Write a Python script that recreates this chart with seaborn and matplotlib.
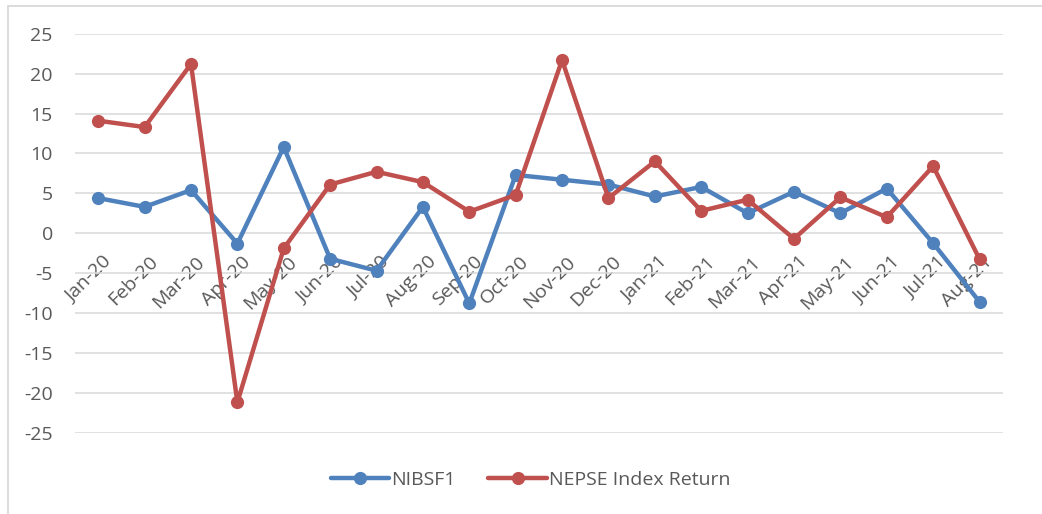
import matplotlib
matplotlib.use("Agg")
import matplotlib.pyplot as plt
import matplotlib.transforms as mtrans
from matplotlib.patches import Rectangle
import seaborn as sns
import pandas as pd

months = ["Jan-20", "Feb-20", "Mar-20", "Apr-20", "May-20", "Jun-20", "Jul-20",
          "Aug-20", "Sep-20", "Oct-20", "Nov-20", "Dec-20", "Jan-21", "Feb-21",
          "Mar-21", "Apr-21", "May-21", "Jun-21", "Jul-21", "Aug-21"]
nibsf1 = [4.4, 3.3, 5.4, -1.3, 10.8, -3.2, -4.7, 3.3, -8.8, 7.3,
          6.7, 6.1, 4.6, 5.8, 2.5, 5.2, 2.5, 5.6, -1.25, -8.6]
nepse = [14.1, 13.3, 21.2, -21.2, -1.9, 6.1, 7.7, 6.4, 2.7, 4.8,
         21.7, 4.4, 9.0, 2.8, 4.2, -0.7, 4.5, 2.0, 8.4, -3.25]
series_names = ["NIBSF1", "NEPSE Index Return"]
yticks = [25, 20, 15, 10, 5, 0, -5, -10, -15, -20, -25]

df = pd.DataFrame({
    "Month": months * 2,
    "Value": nibsf1 + nepse,
    "Series": [series_names[0]] * len(months) + [series_names[1]] * len(months),
})
df["x"] = list(range(len(months))) * 2

sns.set_theme(style="white")
plt.rcParams["font.family"] = ["Open Sans", "DejaVu Sans"]

FS = 14
TXT = "#595959"

fig = plt.figure(figsize=(10.42, 5.14), dpi=100)
ax = fig.add_axes([0.072, 0.1582, 0.8903, 0.7762])

palette = {"NIBSF1": "#4F81BD", "NEPSE Index Return": "#C0504D"}
sns.lineplot(data=df, x="x", y="Value", hue="Series", palette=palette,
             marker="o", markersize=9.5, markeredgewidth=0, linewidth=3.2,
             sort=False, ax=ax, legend=True)

for s in ["top", "right", "left"]:
    ax.spines[s].set_visible(False)
ax.spines["bottom"].set_position(("data", 0))
ax.spines["bottom"].set_color("none")

ax.set_xlim(-0.5, len(months) - 0.5)
ax.set_ylim(-25, 25)
ax.set_yticks(yticks)
ax.set_yticklabels([str(t) for t in yticks], fontsize=FS, color=TXT)
ax.set_xticks(range(len(months)))
ax.set_xticklabels(months, rotation=45, ha="right", rotation_mode="anchor",
                   fontsize=FS, color=TXT)
ax.tick_params(axis="both", length=0)
ax.tick_params(axis="y", pad=16)
ax.tick_params(axis="x", pad=14)
shift = mtrans.ScaledTranslation(4 / 100, 0, fig.dpi_scale_trans)
for lab in ax.get_xticklabels():
    lab.set_transform(lab.get_transform() + shift)
ax.set_xlabel("")
ax.set_ylabel("")
ax.yaxis.grid(True, color="#D9D9D9", linewidth=1.1)
ax.xaxis.grid(False)
ax.set_axisbelow(True)

handles, labels = ax.get_legend_handles_labels()
if ax.get_legend():
    ax.get_legend().remove()
leg = fig.legend(handles, labels, loc="center", bbox_to_anchor=(0.509, 0.066),
                 ncol=2, frameon=False, fontsize=FS, handlelength=3.0,
                 columnspacing=1.7, handletextpad=0.1)
for t in leg.get_texts():
    t.set_color(TXT)

fig.patches.append(Rectangle((7.5 / 1042, -0.1), 1.2, 1.1 - 6.5 / 514,
                             transform=fig.transFigure, fill=False,
                             edgecolor="#D9D9D9", linewidth=1.3, zorder=0))

fig.savefig("out.png", dpi=100)
